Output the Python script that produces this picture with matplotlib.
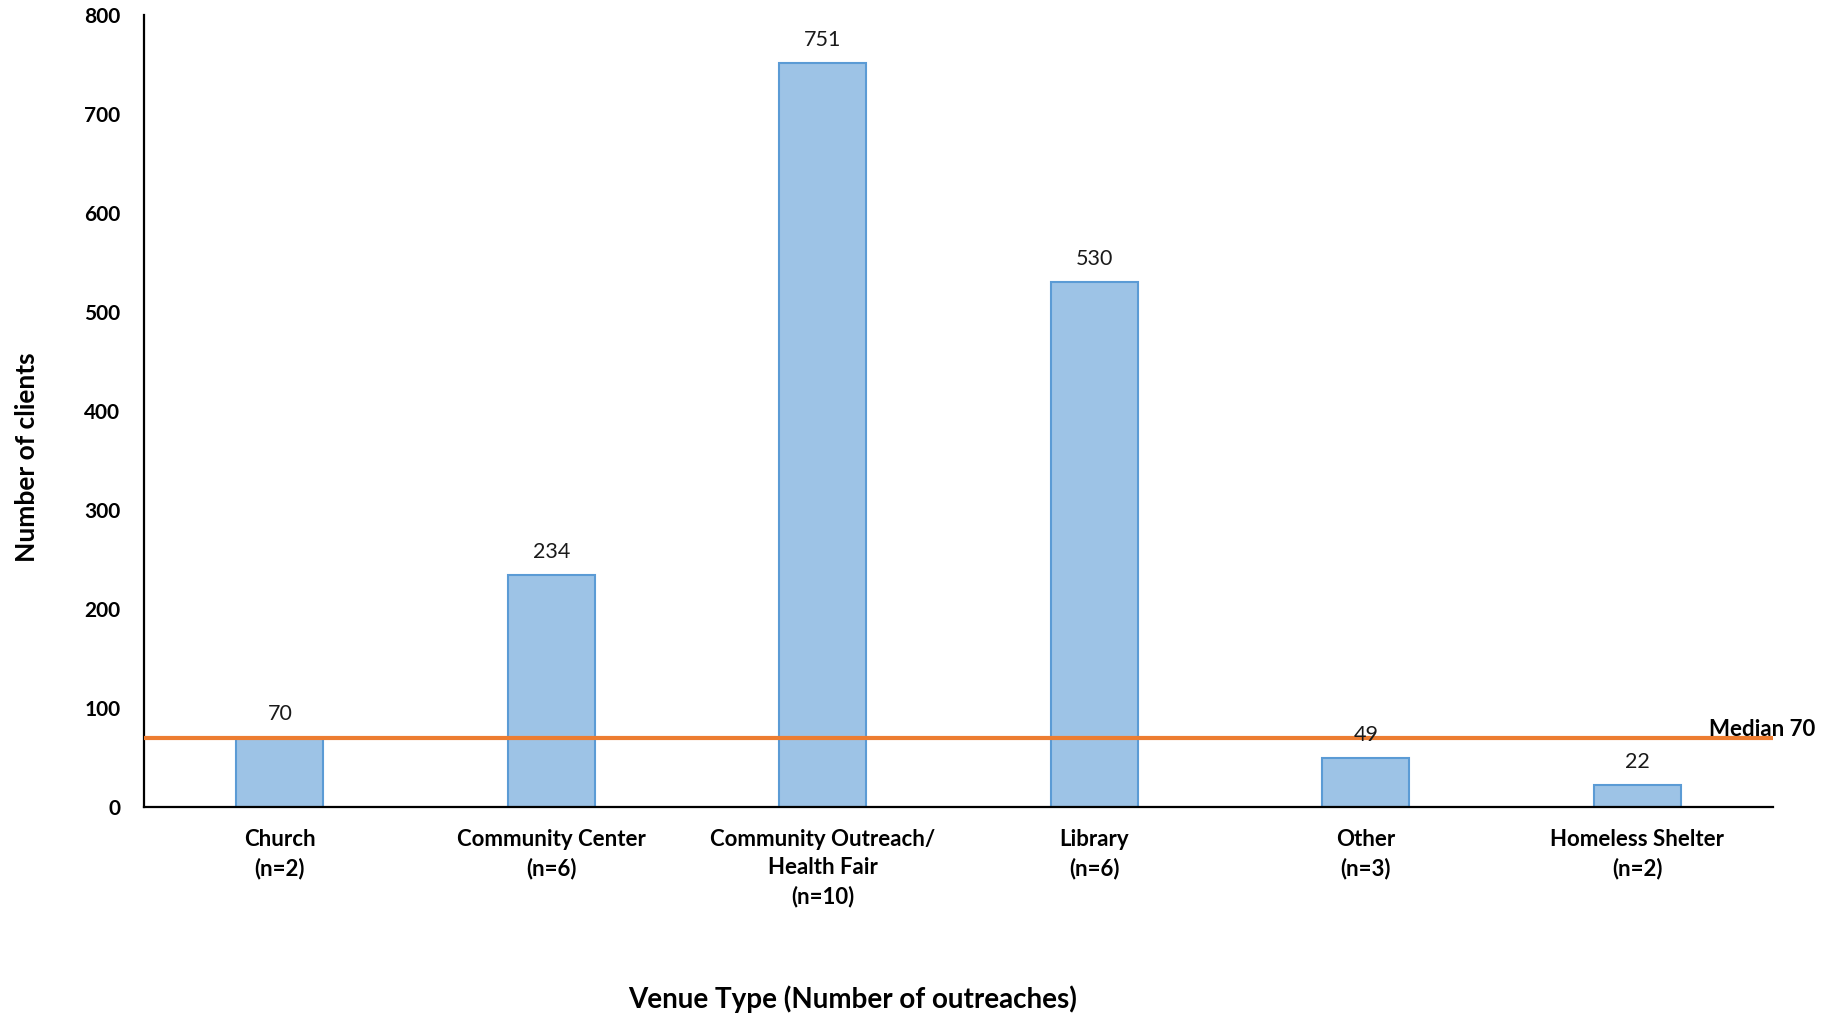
import numpy as np
import matplotlib.pyplot as plt
import matplotlib.transforms as mtransforms

plt.rcParams['font.family'] = ['Lato', 'DejaVu Sans']

venues = ['Church\n(n=2)', 'Community Center\n(n=6)', 'Community Outreach/\nHealth Fair\n(n=10)',
          'Library\n(n=6)', 'Other\n(n=3)', 'Homeless Shelter\n(n=2)']
clients = [70, 234, 751, 530, 49, 22]
median = 70
yticks = [0, 100, 200, 300, 400, 500, 600, 700, 800]

fig = plt.figure(figsize=(18.4, 10.17), dpi=100)
ax = fig.add_axes([0.0783, 0.2065, 0.8853, 0.7788])

x = np.arange(len(venues))
bars = ax.bar(x, clients, width=0.32, color='#9DC3E6', edgecolor='#5B9BD5', linewidth=1.5, zorder=2)
for xi, v in zip(x, clients):
    ax.annotate(str(v), (xi, v), xytext=(0, 9.5), textcoords='offset points',
                ha='center', va='bottom', fontsize=15.5, color='#1a1a1a', zorder=4)

ax.axhline(median, color='#ED7D31', linewidth=3, zorder=3)
trans = mtransforms.blended_transform_factory(ax.transAxes, ax.transData)
ax.text(0.961, median + 2, 'Median %d' % median, transform=trans, ha='left', va='baseline',
        fontsize=16, fontweight='bold', clip_on=False)

ax.set_xlim(-0.5, len(venues) - 0.5)
ax.set_ylim(0, 800)
ax.set_yticks(yticks)
ax.set_xticks(x)
ax.set_xticklabels(venues, fontsize=16, fontweight='bold', linespacing=1.42)
for lab in ax.get_yticklabels():
    lab.set_fontweight('bold')
ax.tick_params(axis='y', length=0, pad=17, labelsize=15)
ax.tick_params(axis='x', length=0, pad=16)

for s in ['top', 'right']:
    ax.spines[s].set_visible(False)
for s in ['left', 'bottom']:
    ax.spines[s].set_linewidth(1.6)
    ax.spines[s].set_color('black')

fig.text(0.0145, 0.5506, 'Number of clients', rotation=90, ha='center', va='center',
         fontsize=19, fontweight='bold')
fig.text(0.4636, 0.0088, 'Venue Type (Number of outreaches)', ha='center', va='baseline',
         fontsize=20, fontweight='bold')

fig.savefig('out.png', dpi=100)
